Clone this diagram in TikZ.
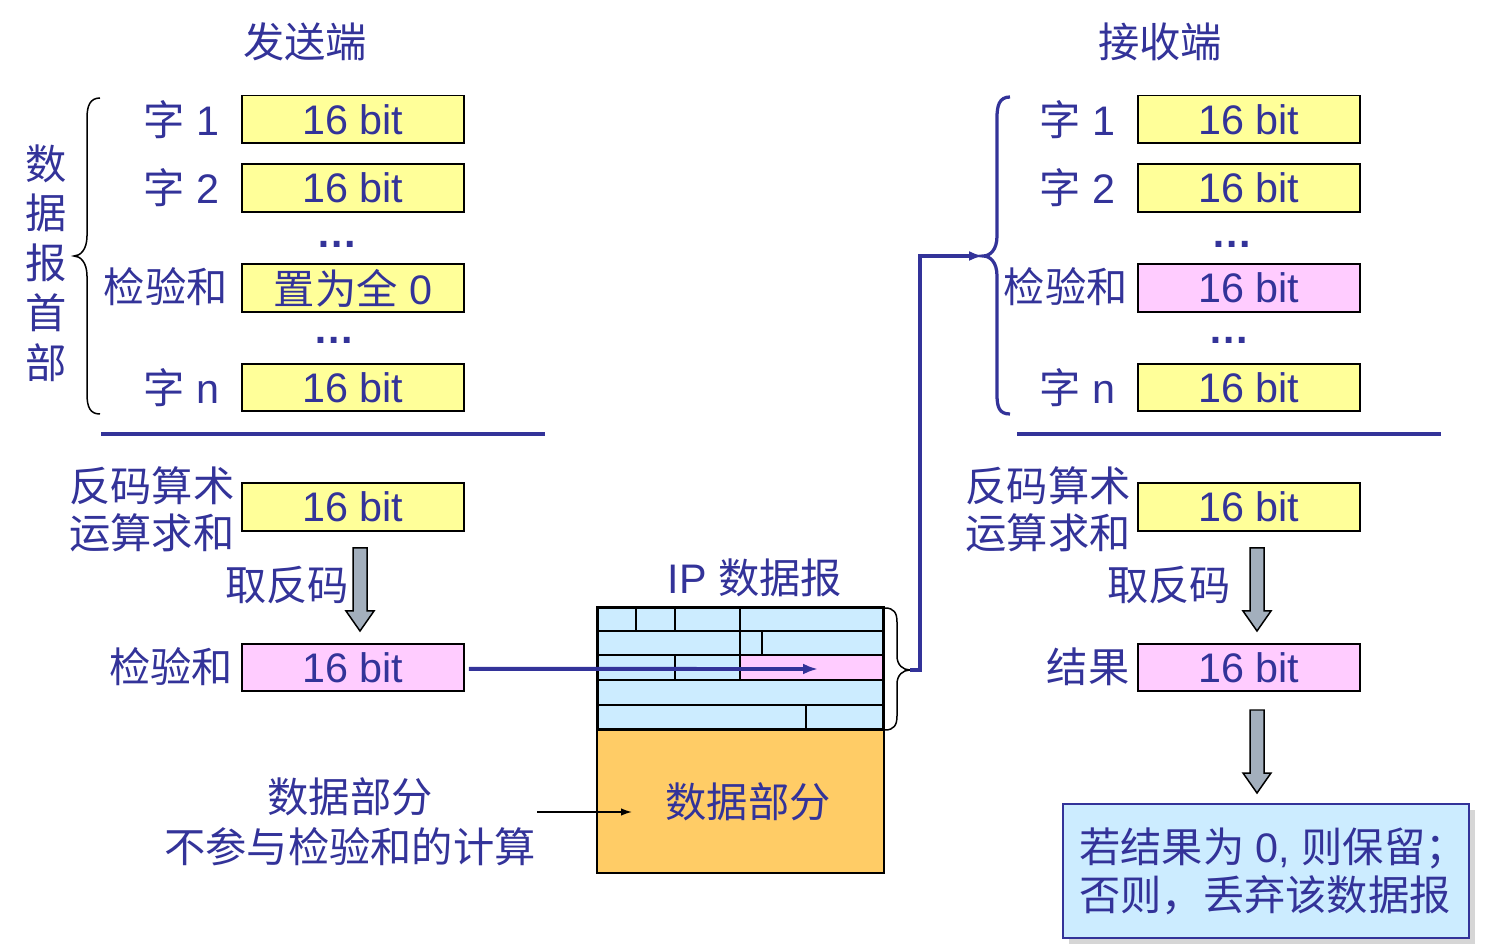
\documentclass[tikz,border=0pt]{standalone}
\usepackage{fontspec}
\setmainfont{Liberation Sans}
\newfontfamily\cjk{Noto Sans CJK SC}
\usetikzlibrary{arrows.meta,shadows}
\definecolor{tblue}{HTML}{333399}
\definecolor{yfill}{HTML}{FFFF99}
\definecolor{pfill}{HTML}{FFCCFF}
\definecolor{lbfill}{HTML}{CCECFF}
\definecolor{ofill}{HTML}{FFCC66}
\definecolor{gfill}{HTML}{A3AFBD}
\definecolor{shadowgray}{HTML}{D6D6D6}
\begin{document}
\begin{tikzpicture}[x=0.02cm,y=-0.02cm,
  lbl/.style={text=tblue,font=\fontsize{23.5}{28.35}\selectfont,inner sep=0pt},
  lblc/.style={text=tblue,font=\cjk\fontsize{23.5}{28.35}\selectfont,inner sep=0pt},
  dotlbl/.style={text=tblue,font=\bfseries\fontsize{23.5}{28.35}\selectfont,inner sep=0pt},
  cellbox/.style={draw=black,line width=0.04cm,minimum width=4.44cm,minimum height=0.96cm,inner sep=0pt,text=tblue,font=\fontsize{23.5}{28}\selectfont},
  ybox/.style={cellbox,fill=yfill},
  pbox/.style={cellbox,fill=pfill},
  bline/.style={tblue,line width=0.08cm},
  bigtip/.style={-{Latex[length=0.3cm,width=0.22cm]}},
  garrow/.pic={\draw[fill=gfill,line width=0.03cm] (-7,0) -- (7,0) -- (7,63) -- (14,63) -- (0,83) -- (-14,63) -- (-7,63) -- cycle;}
]
\useasboundingbox (0,0) rectangle (1499,949);

% titles
\node[lblc] (ttl) at (305,42) {发送端};
\node[lblc] (ttr) at (1160,42) {接收端};

% ---------- sender header ----------
\node[lblc,align=center] (hdr) at (46,263) {数\\据\\报\\首\\部};
\draw[black,line width=0.03cm] (100,98) .. controls (90,98) and (87,106) .. (87,118) -- (87,236) .. controls (87,250) and (80,256) .. (74,256) .. controls (80,256) and (87,262) .. (87,276) -- (87,394) .. controls (87,407) and (90,414) .. (100,414);

\node[ybox] (s1) at (353,119.5) {16 bit};
\node[ybox] (s2) at (353,188) {16 bit};
\node[ybox] (sc) at (353,288) {{\cjk 置为全} 0};
\node[ybox] (sn) at (353,387.5) {16 bit};
\node[lbl,anchor=east] (ls1) at (220,119.5) {{\cjk 字} 1};
\node[lbl,anchor=east] (ls2) at (220,188) {{\cjk 字} 2};
\node[lblc,anchor=east] (lsc) at (228,287) {检验和};
\node[lbl,anchor=east] (lsn) at (220,387.5) {{\cjk 字} n};
\node[dotlbl] (sd1) at (337,244) {…};
\node[dotlbl] (sd2) at (334,340) {…};
\draw[bline] (101,434) -- (545,434);

\node[lblc,align=center] (ssum) at (152,509.5) {反码算术\\[-1.75pt]运算求和};
\node[ybox] (ss) at (353,507) {16 bit};
\pic at (360,548) {garrow};
\node[lblc] (sinv) at (287,585) {取反码};
\node[pbox] (cks) at (353,667.5) {16 bit};
\node[lblc] (lcks) at (171,667) {检验和};

% ---------- IP datagram ----------
\node[lbl] (iplbl) at (755,578) {IP {\cjk 数据报}};
\fill[lbfill] (597,607) rectangle (884,730);
\fill[pfill] (740,655) rectangle (884,680);
\draw[line width=0.035cm] (597,631) -- (884,631) (597,655) -- (884,655) (597,680) -- (884,680) (597,705) -- (884,705)
  (636,607) -- (636,631) (675,607) -- (675,631) (740,607) -- (740,680)
  (762,631) -- (762,655) (675,655) -- (675,680) (806,705) -- (806,730);
\node[draw,line width=0.06cm,minimum width=5.74cm,minimum height=2.46cm,inner sep=0pt] (ip) at (740.5,668.5) {};
\node[draw,fill=ofill,line width=0.05cm,minimum width=5.74cm,minimum height=2.86cm,inner sep=0pt,text=tblue,font=\cjk\fontsize{23.5}{28}\selectfont] (data) at (740.5,801.5) {\hspace*{0.3cm}数据部分};
\coordinate (ipck) at (818,669);
\draw[bline,bigtip] ([xshift=0.08cm,yshift=-0.03cm]cks.east) -- (ipck);

\node[lblc,align=center] (dl) at (350,822) {数据部分\\不参与检验和的计算};
\coordinate (dla) at (537,812);
\coordinate (dlb) at (632,812);
\draw[black,line width=0.03cm,-{Latex[length=0.22cm,width=0.15cm]}] (dla) -- (dlb);

\draw[black,line width=0.03cm] (885,608) .. controls (894,608) and (897,613) .. (897,622) -- (897,656) .. controls (897,665) and (903,670) .. (910,670) .. controls (903,670) and (897,675) .. (897,684) -- (897,716) .. controls (897,725) and (894,730) .. (885,730);
\coordinate (ipb) at (910,670);

% ---------- receiver ----------
\draw[tblue,line width=0.065cm] (1010,97) .. controls (999,97) and (997,106) .. (997,118) -- (997,236) .. controls (997,250) and (990,256) .. (983,256) .. controls (990,256) and (997,262) .. (997,276) -- (997,394) .. controls (997,407) and (999,414) .. (1010,414);
\coordinate (rbt) at (983,256);
\draw[bline,-{Latex[length=0.28cm,width=0.2cm]}] (ipb) -- ++(10,0) |- (rbt);

\node[ybox] (r1) at (1249,119.5) {16 bit};
\node[ybox] (r2) at (1249,188) {16 bit};
\node[pbox] (rc) at (1249,288) {16 bit};
\node[ybox] (rn) at (1249,387.5) {16 bit};
\node[lbl,anchor=east] (lr1) at (1116,119.5) {{\cjk 字} 1};
\node[lbl,anchor=east] (lr2) at (1116,188) {{\cjk 字} 2};
\node[lblc,anchor=east] (lrc) at (1128,287) {检验和};
\node[lbl,anchor=east] (lrn) at (1116,387.5) {{\cjk 字} n};
\node[dotlbl] (rd1) at (1232,244) {…};
\node[dotlbl] (rd2) at (1229,340) {…};
\draw[bline] (1017,434) -- (1441,434);

\node[lblc,align=center] (rsum) at (1048,509.5) {反码算术\\[-1.75pt]运算求和};
\node[ybox] (rs) at (1249,507) {16 bit};
\pic at (1257,548) {garrow};
\node[lblc] (rinv) at (1169,585) {取反码};
\node[pbox] (rres) at (1249,667.5) {16 bit};
\node[lblc] (lrres) at (1088,667) {结果};
\pic at (1257,710) {garrow};

\node[draw=tblue,fill=lbfill,line width=0.04cm,minimum width=8.12cm,minimum height=2.68cm,inner sep=0pt,
  align=left,text=tblue,font=\fontsize{23.5}{28.35}\selectfont,
  drop shadow={fill=shadowgray,opacity=1,shadow xshift=0.12cm,shadow yshift=-0.12cm}] (res) at (1266,871)
  {\hspace*{0.28cm}{\cjk 若结果为} 0, {\cjk 则保留；}\\[-1.1pt]\hspace*{0.28cm}{\cjk 否则，丢弃该数据报}};
\end{tikzpicture}
\end{document}
